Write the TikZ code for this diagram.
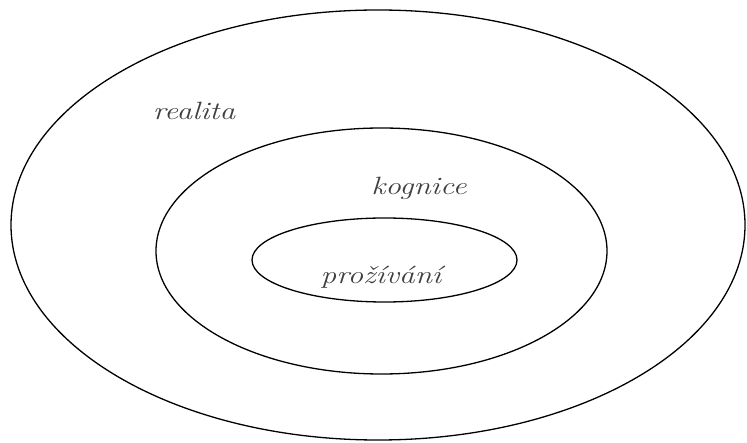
\documentclass[tikz,border=0pt]{standalone}
\usepackage{fontspec}
\begin{document}
\begin{tikzpicture}[x=1pt,y=-1pt,
  ring/.style={draw=black, line width=1.3pt},
  lbl/.style={text=black!75, font=\fontsize{25}{30}\selectfont\itshape, inner sep=0pt}]
\useasboundingbox (0,0) rectangle (747,443);
\draw[ring] (378,225) ellipse [x radius=367, y radius=215];
\draw[ring] (381.5,251) ellipse [x radius=225.5, y radius=123];
\draw[ring] (384.5,260) ellipse [x radius=132.5, y radius=42];
\node[lbl, anchor=base] (realita) at (194,120) {\scalebox{1.25}[1]{realita}};
\node[lbl, anchor=base] (kognice) at (419,195) {\scalebox{1.25}[1]{kognice}};
\node[lbl, anchor=base] (prozivani) at (381,284) {\scalebox{1.25}[1]{prožívání}};
\end{tikzpicture}
\end{document}
